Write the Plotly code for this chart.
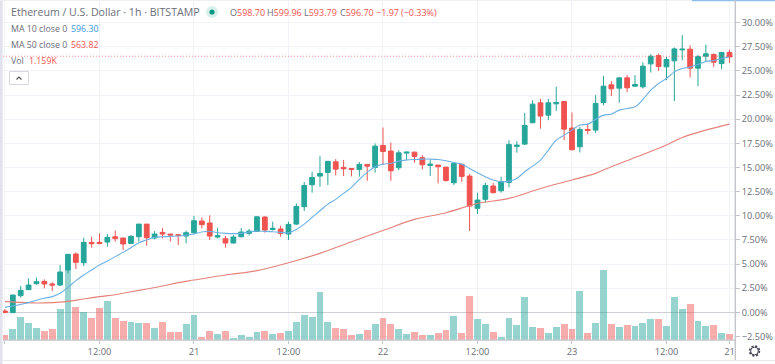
import plotly.graph_objects as go

hours = list(range(93))
opens = [.14,-.03,1.73,2.35,2.97,3.21,2.94,2.83,4.39,6.04,5.14,7.25,7.25,7.28,7.83,7.70,7.14,7.83,9.14,7.70,8.28,8.11,8.04,7.90,
8.25,9.46,9.25,7.80,7.63,7.18,7.83,8.18,8.39,9.87,8.59,8.63,8.11,9.14,10.94,13.21,14.11,14.49,15.59,15.01,14.90,14.80,15.32,15.01,17.28,
16.70,14.97,16.49,16.59,16.01,15.21,15.25,15.04,13.42,15.32,14.11,10.77,11.70,13.08,12.59,13.46,17.18,17.42,19.63,21.70,20.42,21.59,21.83,19.08,
17.14,18.94,18.87,21.73,23.56,23.21,24.28,23.42,23.35,25.73,26.59,25.42,26.04,27.18,27.25,25.28,26.52,26.70,25.76,26.90]
highs = [.32,1.80,2.73,3.52,3.59,3.42,3.11,4.90,6.01,6.21,7.73,7.83,8.18,8.11,8.46,7.70,8.01,9.14,9.14,8.42,8.73,8.11,8.11,8.46,
9.97,9.83,10.04,8.77,7.90,8.01,8.73,8.63,9.90,9.97,9.39,8.97,9.39,11.28,13.49,14.56,16.18,15.70,15.87,15.77,14.90,15.56,15.32,17.49,19.14,
17.56,16.80,16.63,16.63,16.28,15.77,15.25,15.04,15.56,15.35,14.32,12.39,13.42,13.42,14.04,17.83,17.73,20.66,21.97,22.11,22.11,23.35,21.83,20.70,
19.21,19.56,22.49,24.49,23.94,24.28,24.56,24.56,25.90,26.73,26.80,26.46,27.42,28.70,27.63,26.63,27.73,26.80,26.97,27.21]
lows = [-.10,-.03,1.52,2.32,2.87,2.49,2.21,2.73,4.04,4.49,4.80,6.70,7.04,6.80,7.32,6.46,7.08,7.32,6.90,7.56,7.66,7.32,6.97,7.14,
8.11,8.70,7.49,7.66,6.70,7.14,7.77,7.97,8.35,8.25,8.46,7.83,7.49,9.04,10.49,12.39,13.01,13.18,14.18,14.11,14.08,14.04,13.63,14.46,15.25,
13.63,14.73,15.77,15.49,14.80,14.11,13.35,13.52,13.18,13.52,8.42,10.18,11.35,12.32,12.39,12.94,16.52,17.32,19.63,19.01,19.90,20.87,17.83,16.80,
16.56,18.45,18.59,21.45,22.39,21.70,22.80,23.35,23.18,24.83,25.01,24.04,21.87,26.11,24.32,23.42,25.94,25.42,25.18,25.83]
closes = [.00,1.80,2.28,2.83,3.18,2.94,2.83,4.18,6.01,5.18,7.25,7.11,7.14,7.77,7.63,7.08,7.87,9.14,7.73,8.11,8.11,8.01,7.97,8.25,
9.49,9.08,7.90,7.94,7.18,7.80,8.32,8.42,9.90,8.52,8.70,8.18,9.11,10.97,13.14,13.97,14.39,15.63,14.83,14.87,14.80,15.32,15.14,17.21,16.66,
14.66,16.52,16.59,16.15,15.28,15.35,15.08,13.66,15.42,14.08,11.01,11.63,13.14,12.39,13.52,17.39,17.32,19.35,21.56,20.32,21.70,21.73,18.97,16.83,
18.94,18.83,21.63,23.42,23.15,24.28,23.25,23.59,25.49,26.52,25.45,26.18,27.28,27.25,25.28,26.49,26.77,25.90,26.90,26.45]
volumes = [.94,2.26,4.66,3.46,2.34,1.74,2.14,6.14,14.0,6.54,5.6,4.46,6.46,7.74,4.4,3.8,3.6,3.4,3.34,2.46,3.6,1.54,1.54,3.14,
5.0,.66,1.86,1.2,1.8,.46,1.0,.6,1.66,1.8,1.2,1.4,1.8,3.54,5.06,4.54,9.54,3.6,2.4,2.14,1.0,1.2,1.94,3.14,4.4,
3.2,2.26,1.14,1.54,.94,1.06,1.46,2.0,4.8,1.46,8.8,4.2,3.14,1.54,.66,4.4,3.0,8.54,2.6,2.34,1.34,2.54,3.2,2.2,
9.8,1.46,3.34,14.0,3.2,2.6,3.06,2.8,3.34,4.14,4.2,2.86,8.66,6.14,7.26,3.8,2.86,2.94,1.4,1.159]
ma10 = [.52,.66,.83,1.01,1.25,1.46,1.63,1.97,2.59,3.28,3.87,4.39,4.90,5.32,5.77,6.21,6.70,7.21,7.49,7.77,7.83,7.87,7.90,8.01,
8.11,8.32,8.39,8.25,8.18,8.15,8.18,8.32,8.42,8.39,8.35,8.28,8.25,8.59,9.14,9.83,10.52,11.21,11.70,12.32,12.94,13.77,14.49,15.08,15.35,
15.42,15.66,15.77,15.83,15.87,15.87,15.83,15.70,15.52,15.35,14.90,14.46,14.04,13.70,13.52,13.59,13.87,14.56,15.14,15.77,16.80,17.83,18.35,18.87,
19.39,19.49,19.97,20.42,20.52,20.94,21.11,21.28,22.04,23.01,23.70,24.21,24.90,25.25,25.39,25.66,25.97,26.08,26.25,26.46]
ma50_hours = [0,2,4,6,8,10,12,14,16,18,20,22,24,28,32,36,40,44,48,52,56,60,64,68,72,75,77,81,84,86,89,92]
ma50 = [1.11,1.04,.97,1.01,1.14,1.39,1.63,1.83,2.14,2.42,2.73,3.08,3.35,3.87,4.32,5.14,6.11,7.32,8.48,9.63,10.32,11.28,11.80,12.83,13.70,14.39,15.08,16.35,17.32,18.11,18.87,19.49]
x_ticks = [0,12,24,36,48,60,72,84,92]
x_labels = ["20","12:00","21","12:00","22","12:00","23","12:00","21"]
y_ticks = [-2.5,0,2.5,5,7.5,10,12.5,15,17.5,20,22.5,25,27.5,30]
y_labels = ["−2.50%","0.00%","2.50%","5.00%","7.50%","10.00%","12.50%","15.00%","17.50%","20.00%","22.50%","25.00%","27.50%","30.00%"]
last_price = 26.52

UP, DOWN = "#26a69a", "#ef5350"
TEXT, GRID, AXIS = "#6b6e78", "#f1f3f9", "#c4c5cc"
FONT = "Open Sans"
L, R, T, B = 3, 735, 0, 340
W, H = 775, 364

px = lambda x: (x - L) / (R - L)
py = lambda y: (B - y) / (B - T)

fig = go.Figure()
fig.add_trace(go.Bar(x=hours, y=volumes, yaxis="y", width=0.87,
    marker=dict(color=["rgba(38,166,154,.48)" if c >= o else "rgba(239,83,80,.48)" for o, c in zip(opens, closes)], line_width=0),
    showlegend=False, hoverinfo="skip"))
fig.add_trace(go.Scatter(x=ma50_hours, y=ma50, yaxis="y2", mode="lines", line=dict(color="#e5837a", width=1.1, shape="spline"), showlegend=False, hoverinfo="skip"))
fig.add_trace(go.Scatter(x=hours, y=ma10, yaxis="y2", mode="lines", line=dict(color="#6cb0e4", width=1.1, shape="spline"), showlegend=False, hoverinfo="skip"))
fig.add_trace(go.Candlestick(x=hours, open=opens, high=highs, low=lows, close=closes, yaxis="y2",
    increasing=dict(line=dict(color=UP, width=1), fillcolor=UP),
    decreasing=dict(line=dict(color=DOWN, width=1), fillcolor=DOWN),
    whiskerwidth=0, showlegend=False, hoverinfo="skip"))

def rect(x0, y0, x1, y1, color):
    return dict(type="rect", xref="paper", yref="paper", x0=px(x0), x1=px(x1), y0=py(y0), y1=py(y1),
                fillcolor=color, line_width=0, layer="above")

def circle(cx, cy, r, **kw):
    return dict(type="circle", xref="paper", yref="paper", x0=px(cx - r), x1=px(cx + r), y0=py(cy + r), y1=py(cy - r), layer="above", **kw)

shapes = [
    dict(type="line", xref="paper", yref="y2", x0=0, x1=1, y0=last_price, y1=last_price,
         line=dict(color="rgba(239,83,80,.65)", width=1, dash="1px,2px"), layer="above"),
    rect(0, 0, 2.6, H, "#e0e3eb"),
    rect(0, 0, W, 1, "#eef0f4"),
    rect(692, 0, W, 1.2, "#8fc0ea"),
    rect(734.6, 0, 736, 360, AXIS),
    rect(3, 339.4, 735, 340.8, AXIS),
    rect(3, 360, W, 361, "#e6e8ee"),
    circle(212, 12, 6, fillcolor="#d9f0ed", line_width=0),
    circle(212, 12, 2.6, fillcolor="#089981", line_width=0),
    dict(type="rect", xref="paper", yref="paper", x0=px(9.5), x1=px(28.5), y0=py(71.5), y1=py(84.5), fillcolor="white", line=dict(color="#d6d8de", width=1), layer="above"),
    dict(type="path", xref="paper", yref="paper", path=f"M {px(16.5)} {py(79.5)} L {px(19)} {py(77)} L {px(21.5)} {py(79.5)}", line=dict(color="#50535e", width=1.2), layer="above"),
    circle(754.5, 351, 4.8, fillcolor="white", line=dict(color="#3f4250", width=1.8, dash="2px,1.8px")),
    circle(754.5, 351, 3.9, fillcolor="white", line=dict(color="#3f4250", width=1)),
]

def label(x, y, text, size=9.0, anchor="left", color=TEXT, font=FONT):
    return dict(xref="paper", yref="paper", x=px(x), y=py(y), text=text, showarrow=False, xanchor=anchor, yanchor="middle",
                font=dict(size=size, color=color, family=font), align="left")

def red(s):
    return f'<span style="color:{DOWN}">{s}</span>'

annotations = [
    label(9, 12.5, "Ethereum / U.S. Dollar · 1h · BITSTAMP", size=10.6),
    label(228, 12.5, "O" + red("598.70")),
    label(265, 12.5, "H" + red("599.96")),
    label(302, 12.5, "L" + red("593.79")),
    label(338, 12.5, "C" + red("596.70")),
    label(374, 12.5, red("−1.97")),
    label(399, 12.5, red("(−0.33%)")),
    label(8.5, 29, "MA 10 close 0", size=8.8),
    label(69, 29, '<span style="color:#3d9ae0">596.30</span>', size=8.8),
    label(8.5, 45, "MA 50 close 0", size=8.8),
    label(69, 45, red("563.82"), size=8.8),
    label(8.5, 61, "Vol", size=8.8),
    label(27, 61, red("1.159K"), size=8.8),
]

fig.update_layout(
    width=W, height=H, margin=dict(l=L, r=W - R, t=T, b=H - B),
    paper_bgcolor="white", plot_bgcolor="white", barmode="overlay", bargap=0, boxgap=0.14, boxmode="overlay",
    font=dict(family=FONT, size=9.3, color=TEXT), showlegend=False, hovermode=False,
    xaxis=dict(range=[-0.25, 92.7], tickmode="array", tickvals=x_ticks, ticktext=x_labels, showgrid=True, gridcolor=GRID, gridwidth=1,
               zeroline=False, ticks="outside", ticklen=3, tickcolor=AXIS, rangeslider=dict(visible=False), showline=False,
               tickfont=dict(size=9.3, color=TEXT), fixedrange=True),
    yaxis=dict(range=[0, 68], visible=False, fixedrange=True),
    yaxis2=dict(range=[-2.86, 32.34], overlaying="y", side="right", tickmode="array", tickvals=y_ticks, ticktext=y_labels,
                showgrid=True, gridcolor=GRID, gridwidth=1, zeroline=True, zerolinecolor="#cfd0d4", zerolinewidth=1.4,
                ticks="outside", ticklen=4, tickcolor=AXIS, showline=False, tickfont=dict(size=9.2, color=TEXT), fixedrange=True),
    shapes=shapes, annotations=annotations,
)

fig.write_html("out.html", config=dict(displayModeBar=False, responsive=False),
               post_script="document.body.style.margin='0';document.body.style.overflow='hidden';")
